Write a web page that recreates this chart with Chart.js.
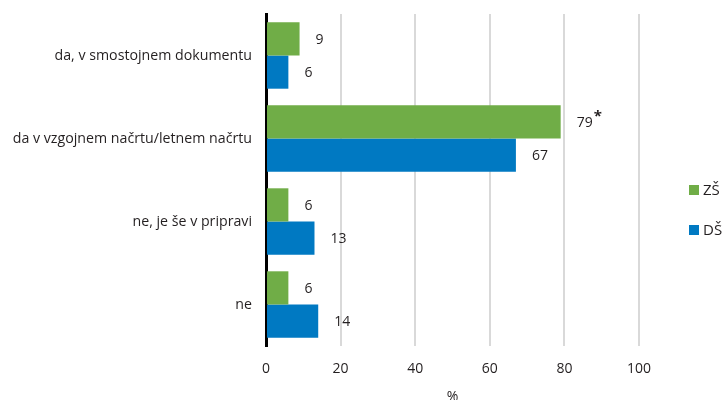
<!DOCTYPE html>
<html>
  <head>
    <meta charset="utf-8">
    <title>Opredelitev - ZŠ / DŠ</title>
    <style>
        body { margin: 0; background: #fff; }
        #wrap { position: relative; width: 723px; height: 400px; }
    </style>
    <script src="https://cdn.jsdelivr.net/npm/chart.js@4.4.1/dist/chart.umd.min.js"></script>
  </head>
  <body>
  <div id="wrap"><canvas id="myChart"></canvas></div>

  <script type="text/javascript">
    // data
    var categories = ["da, v smostojnem dokumentu", "da v vzgojnem načrtu/letnem načrtu", "ne, je še v pripravi", "ne"];
    var seriesNames = ["ZŠ", "DŠ"];
    var zsValues = [9, 79, 6, 6];
    var dsValues = [6, 67, 13, 14];
    var zsNotes = ["", "*", "", ""];   // asterisk next to a value
    var dsNotes = ["", "", "", ""];
    var xTicks = [0, 20, 40, 60, 80, 100];

    var textColor = '#231f20';
    var fontFamily = "'Open Sans', sans-serif";

    // value labels right of each bar
    var valueLabels = {
      id: 'valueLabels',
      afterDatasetsDraw: function (chart) {
        var ctx = chart.ctx;
        ctx.save();
        ctx.fillStyle = textColor;
        ctx.textBaseline = 'middle';
        ctx.textAlign = 'left';
        chart.data.datasets.forEach(function (ds, i) {
          chart.getDatasetMeta(i).data.forEach(function (bar, j) {
            var txt = String(ds.data[j]);
            ctx.font = '14px ' + fontFamily;
            var x = bar.x + 16;
            ctx.fillText(txt, x, bar.y + 1);
            if (ds.notes && ds.notes[j]) {
              var w = ctx.measureText(txt).width;
              ctx.font = 'bold 15px ' + fontFamily;
              ctx.fillText(ds.notes[j], x + w + 1, bar.y - 5);
            }
          });
        });
        ctx.restore();
      }
    };

    // legend on the right, small squares
    var sideLegend = {
      id: 'sideLegend',
      afterDraw: function (chart) {
        var ctx = chart.ctx;
        ctx.save();
        ctx.font = '15px ' + fontFamily;
        ctx.textBaseline = 'middle';
        chart.data.datasets.forEach(function (ds, i) {
          var y = 190 + i * 40;
          ctx.fillStyle = ds.backgroundColor;
          ctx.fillRect(689, y - 5, 10, 10);
          ctx.fillStyle = textColor;
          ctx.fillText(ds.label, 703, y + 1);
        });
        ctx.restore();
      }
    };

    var ctx = document.getElementById('myChart').getContext('2d');
    var chart = new Chart(ctx, {
        type: 'bar',
        data: {
            labels: categories,
            datasets: [{
                  label: seriesNames[0],
                  data: zsValues,
                  notes: zsNotes,
                  backgroundColor: '#70ad47',
                  categoryPercentage: 0.8,
                  barPercentage: 1.0
            }, {
                  label: seriesNames[1],
                  data: dsValues,
                  notes: dsNotes,
                  backgroundColor: '#0079c2',
                  categoryPercentage: 0.8,
                  barPercentage: 1.0
            }]
        },
        options: {
          indexAxis: 'y',
          responsive: true,
          maintainAspectRatio: false,
          animation: false,
          layout: { padding: { top: 14, right: 84, left: 0, bottom: 0 } },
          plugins: {
            legend: { display: false },
            tooltip: { enabled: false }
          },
          scales: {
            x: {
              min: 0,
              max: 100,
              afterBuildTicks: function (s) { s.ticks = xTicks.map(function (v) { return { value: v }; }); },
              afterFit: function (s) { s.height = 54; s.paddingLeft = 0; s.paddingRight = 0; },
              grid: { color: '#d9d9d9', lineWidth: 2, drawTicks: false },
              border: { display: false },
              ticks: { color: textColor, padding: 15, font: { family: fontFamily, size: 14 } },
              title: { display: true, text: '%', color: textColor, padding: { top: 0, bottom: -5 }, font: { family: fontFamily, size: 14 } }
            },
            y: {
              afterFit: function (s) { s.width = 266; s.paddingTop = 0; s.paddingBottom = 0; },
              grid: { display: false, drawTicks: false },
              border: { display: true, color: '#000', width: 3 },
              ticks: { color: textColor, padding: 14, font: { family: fontFamily, size: 14.2 } }
            }
          }
        },
        plugins: [valueLabels, sideLegend]
    });
  </script>
  </body>
</html>
